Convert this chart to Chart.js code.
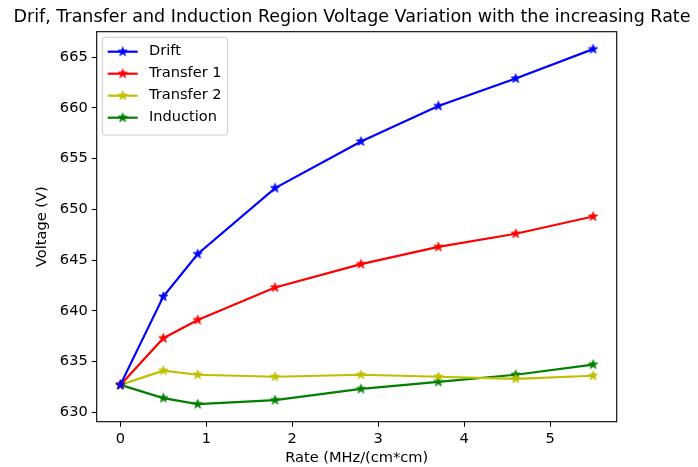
<!DOCTYPE html>
<html>
<head>
<meta charset="utf-8">
<script src="https://cdn.jsdelivr.net/npm/chart.js@4.4.0/dist/chart.umd.min.js"></script>
<style>
  html, body { margin: 0; padding: 0; background: #fff; }
  #wrap { width: 698px; height: 467px; }
</style>
</head>
<body>
<div id="wrap"><canvas id="c" width="698" height="467"></canvas></div>
<script>
// rate in MHz/(cm*cm)
var rates = [0, 0.5, 0.9, 1.8, 2.8, 3.7, 4.6, 5.5];

// voltages (V)
var drift     = [632.7, 641.4, 645.6, 652.1, 656.7, 660.2, 662.9, 665.8];
var transfer1 = [632.7, 637.3, 639.1, 642.3, 644.6, 646.3, 647.6, 649.3];
var transfer2 = [632.7, 634.1, 633.7, 633.5, 633.7, 633.5, 633.3, 633.6];
var induction = [632.7, 631.4, 630.8, 631.2, 632.3, 633.0, 633.7, 634.7];

var seriesNames  = ['Drift', 'Transfer 1', 'Transfer 2', 'Induction'];
var seriesColors = ['#0000ff', '#ff0000', '#bfbf00', '#008000'];

var xTicks = [0, 1, 2, 3, 4, 5];
var yTicks = [630, 635, 640, 645, 650, 655, 660, 665];

var FONT = 'DejaVu Sans';
var SMALL = 14.6;

// filled 5 point star, like matplotlib's '*' marker
function starImage(color) {
  var c = document.createElement('canvas');
  c.width = 13; c.height = 13;
  var g = c.getContext('2d');
  var R = 4.8, r = R * 0.382;
  g.beginPath();
  for (var i = 0; i < 10; i++) {
    var rad = i % 2 ? r : R;
    var a = -Math.PI / 2 + i * Math.PI / 5;
    var px = 6.5 + rad * Math.cos(a), py = 6.5 + rad * Math.sin(a);
    if (i === 0) g.moveTo(px, py); else g.lineTo(px, py);
  }
  g.closePath();
  g.fillStyle = color;
  g.fill();
  g.strokeStyle = color;
  g.lineWidth = 1;
  g.stroke();
  return c;
}

function toPoints(vals) {
  return rates.map(function(x, i) { return { x: x, y: vals[i] }; });
}

var allSeries = [drift, transfer1, transfer2, induction];
var markers = seriesColors.map(starImage);

var datasets = allSeries.map(function(vals, i) {
  return {
    label: seriesNames[i],
    data: toPoints(vals),
    borderColor: seriesColors[i],
    backgroundColor: seriesColors[i],
    borderWidth: 2.2,
    pointStyle: markers[i],
    pointRadius: 5,
    tension: 0,
    fill: false
  };
});

// axes box on all four sides
var frame = {
  id: 'frame',
  afterDatasetsDraw: function(chart) {
    var a = chart.chartArea, ctx = chart.ctx;
    ctx.save();
    ctx.strokeStyle = '#000';
    ctx.lineWidth = 1.1;
    ctx.strokeRect(a.left, a.top, a.right - a.left, a.bottom - a.top);
    ctx.restore();
  }
};

// matplotlib style legend inside upper left corner
var boxLegend = {
  id: 'boxLegend',
  afterDraw: function(chart) {
    var a = chart.chartArea, ctx = chart.ctx;
    ctx.save();
    ctx.font = SMALL + 'px "' + FONT + '"';
    var maxW = 0;
    seriesNames.forEach(function(n) { maxW = Math.max(maxW, ctx.measureText(n).width); });
    var x0 = a.left + 5.6, y0 = a.top + 5.6;
    var w = 46.7 + maxW + 6, h = 97.7, rr = 3;
    ctx.beginPath();
    ctx.moveTo(x0 + rr, y0);
    ctx.arcTo(x0 + w, y0, x0 + w, y0 + h, rr);
    ctx.arcTo(x0 + w, y0 + h, x0, y0 + h, rr);
    ctx.arcTo(x0, y0 + h, x0, y0, rr);
    ctx.arcTo(x0, y0, x0 + w, y0, rr);
    ctx.closePath();
    ctx.fillStyle = 'rgba(255,255,255,0.8)';
    ctx.fill();
    ctx.strokeStyle = '#cccccc';
    ctx.lineWidth = 1;
    ctx.stroke();
    seriesNames.forEach(function(n, i) {
      var cy = y0 + 14.4 + i * 22;
      ctx.strokeStyle = seriesColors[i];
      ctx.lineWidth = 2.2;
      ctx.beginPath();
      ctx.moveTo(x0 + 5.4, cy);
      ctx.lineTo(x0 + 35.4, cy);
      ctx.stroke();
      ctx.drawImage(markers[i], x0 + 20.4 - 6.5, cy - 6.5);
      ctx.fillStyle = '#000';
      ctx.textBaseline = 'middle';
      ctx.fillText(n, x0 + 46.7, cy);
    });
    ctx.restore();
  }
};

new Chart(document.getElementById('c'), {
  type: 'line',
  data: { datasets: datasets },
  plugins: [frame, boxLegend],
  options: {
    responsive: false,
    animation: false,
    devicePixelRatio: 1,
    layout: { padding: { left: 6, right: 0, top: 0, bottom: 0 } },
    plugins: {
      legend: { display: false },
      tooltip: { enabled: false },
      title: {
        display: true,
        text: 'Drif, Transfer and Induction Region Voltage Variation with the increasing Rate',
        color: '#000',
        font: { family: FONT, size: 17.5, weight: 'normal' },
        padding: { top: 6.5, bottom: 4.2 }
      }
    },
    scales: {
      x: {
        type: 'linear',
        min: -0.275,
        max: 5.775,
        afterBuildTicks: function(s) { s.ticks = xTicks.map(function(v) { return { value: v }; }); },
        afterFit: function(s) { s.height = 45.3; },
        border: { display: false },
        grid: { drawOnChartArea: false, drawTicks: true, tickLength: 5, color: '#000', lineWidth: 1 },
        ticks: { color: '#000', padding: 4, font: { family: FONT, size: SMALL }, maxRotation: 0 },
        title: { display: true, text: 'Rate (MHz/(cm*cm)', color: '#000', font: { family: FONT, size: SMALL }, padding: { top: 0, bottom: 0 } }
      },
      y: {
        type: 'linear',
        min: 629.07,
        max: 667.52,
        afterBuildTicks: function(s) { s.ticks = yTicks.map(function(v) { return { value: v }; }); },
        afterFit: function(s) { s.width = 90.7; },
        border: { display: false },
        grid: { drawOnChartArea: false, drawTicks: true, tickLength: 5, color: '#000', lineWidth: 1 },
        ticks: { color: '#000', padding: 4, font: { family: FONT, size: SMALL } },
        title: { display: true, text: 'Voltage (V)', color: '#000', font: { family: FONT, size: SMALL }, padding: { top: 27, bottom: 0 } }
      },
      // spacer on the right so the plot keeps matplotlib's margins
      yRight: {
        type: 'linear',
        position: 'right',
        display: true,
        afterFit: function(s) { s.width = 81.3; },
        border: { display: false },
        grid: { display: false },
        ticks: { display: false }
      }
    }
  }
});
</script>
</body>
</html>
